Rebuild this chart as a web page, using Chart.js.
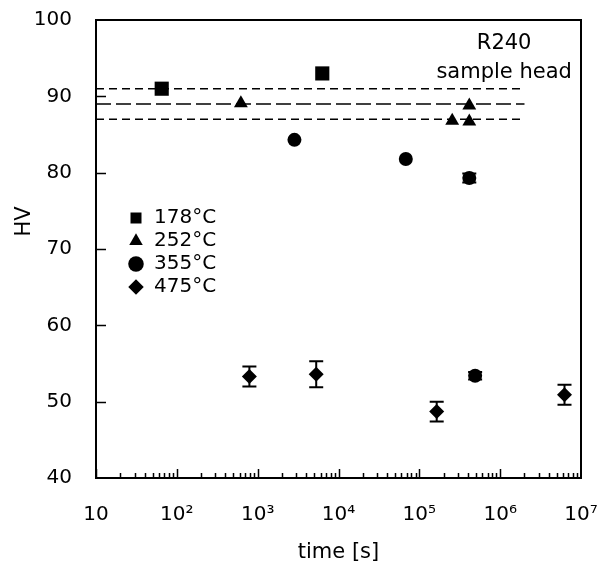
<!DOCTYPE html>
<html>
<head>
<meta charset="utf-8">
<script src="https://cdn.jsdelivr.net/npm/chart.js@4"></script>
<style>
  html, body { margin: 0; padding: 0; background: #fff; }
  #wrap { width: 599px; height: 565px; }
</style>
</head>
<body>
<div id="wrap"><canvas id="hv"></canvas></div>
<script>
// HV vs annealing time, one series per temperature
const seriesNames = ["178°C", "252°C", "355°C", "475°C"];

const time178 = [65, 6300];
const hv178 = [91.0, 93.0];

const time252 = [620, 255000, 415000, 415000];
const hv252 = [89.1, 86.8, 86.7, 88.8];

const time355 = [2850, 68000, 415000, 490000];
const hv355 = [84.3, 81.8, 79.3, 53.4];
const err355 = [0, 0, 0.6, 0.5];

const time475 = [790, 5300, 164000, 6250000];
const hv475 = [53.3, 53.6, 48.7, 50.9];
const err475 = [1.3, 1.7, 1.3, 1.3];

// as-received sample head band (mean and limits)
const refTime = [10, 2000000];
const refMean = 89;
const refLow = 87;
const refHigh = 91;

const xTicks = [10, 1e2, 1e3, 1e4, 1e5, 1e6, 1e7];
const xTickLabels = ["10", "10²", "10³", "10⁴", "10⁵", "10⁶", "10⁷"];
const yTicks = [40, 50, 60, 70, 80, 90, 100];

const FONT = "'DejaVu Sans', sans-serif";

const pts = (xs, ys) => xs.map((x, i) => ({ x: x, y: ys[i] }));
const hline = (v) => refTime.map((t) => ({ x: t, y: v }));

// frame, inward ticks, error bars and the free text
const decorPlugin = {
  id: "decor",
  afterLayout(chart) {
    const lg = chart.legend;
    const pad = chart.options.plugins.legend.labels.padding;
    lg.left = chart.chartArea.left + 32 - pad;
    lg.top = 208 - pad;
  },
  beforeDatasetsDraw(chart) {
    const ctx = chart.ctx;
    const xs = chart.scales.x;
    const ys = chart.scales.y;
    ctx.save();
    ctx.strokeStyle = "#000";
    ctx.lineWidth = 2;
    const bars = [
      [time355, hv355, err355],
      [time475, hv475, err475],
    ];
    bars.forEach(([t, v, e]) => {
      t.forEach((tt, i) => {
        if (!e[i]) return;
        const px = xs.getPixelForValue(tt);
        const top = ys.getPixelForValue(v[i] + e[i]);
        const bot = ys.getPixelForValue(v[i] - e[i]);
        ctx.beginPath();
        ctx.moveTo(px, top);
        ctx.lineTo(px, bot);
        ctx.moveTo(px - 7, top);
        ctx.lineTo(px + 7, top);
        ctx.moveTo(px - 7, bot);
        ctx.lineTo(px + 7, bot);
        ctx.stroke();
      });
    });
    ctx.restore();
  },
  afterDraw(chart) {
    const ctx = chart.ctx;
    const a = chart.chartArea;
    const xs = chart.scales.x;
    const ys = chart.scales.y;
    ctx.save();
    ctx.strokeStyle = "#000";
    ctx.lineWidth = 2;
    ctx.strokeRect(a.left, a.top, a.right - a.left, a.bottom - a.top);

    ctx.lineWidth = 1.5;
    ctx.beginPath();
    yTicks.slice(1, -1).forEach((v) => {
      const py = Math.round(ys.getPixelForValue(v)) + 0.5;
      ctx.moveTo(a.left, py);
      ctx.lineTo(a.left + 10, py);
    });
    for (let d = 10; d < 1e7; d *= 10) {
      for (let m = 1; m <= 9; m++) {
        const v = d * m;
        const px = Math.round(xs.getPixelForValue(v)) + 0.5;
        const len = m === 1 ? 9 : 5;
        ctx.moveTo(px, a.bottom);
        ctx.lineTo(px, a.bottom - len);
      }
    }
    ctx.stroke();

    ctx.fillStyle = "#000";
    ctx.font = "21px " + FONT;
    ctx.textAlign = "center";
    ctx.textBaseline = "middle";
    const ax = xs.getPixelForValue(1.12e6);
    ctx.fillText("R240", ax, ys.getPixelForValue(96.9));
    ctx.fillText("sample head", ax, ys.getPixelForValue(93.1));

    ctx.translate(25, ys.getPixelForValue(73.6));
    ctx.rotate(-Math.PI / 2);
    ctx.fillText("HV", 0, 0);
    ctx.restore();
  },
};

new Chart(document.getElementById("hv").getContext("2d"), {
  type: "scatter",
  data: {
    datasets: [
      {
        label: seriesNames[0],
        data: pts(time178, hv178),
        pointStyle: "rect",
        pointRadius: 10,
        backgroundColor: "#000",
        borderColor: "#000",
        borderWidth: 0,
      },
      {
        label: seriesNames[1],
        data: pts(time252, hv252),
        pointStyle: "triangle",
        pointRadius: 8,
        backgroundColor: "#000",
        borderColor: "#000",
        borderWidth: 0,
      },
      {
        label: seriesNames[2],
        data: pts(time355, hv355),
        pointStyle: "circle",
        pointRadius: 7,
        backgroundColor: "#000",
        borderColor: "#000",
        borderWidth: 0,
      },
      {
        label: seriesNames[3],
        data: pts(time475, hv475),
        pointStyle: "rectRot",
        pointRadius: 7.5,
        backgroundColor: "#000",
        borderColor: "#000",
        borderWidth: 0,
      },
      {
        type: "line",
        label: "high",
        data: hline(refHigh),
        showLine: true,
        pointRadius: 0,
        borderColor: "#000",
        borderWidth: 1.5,
        borderDash: [8, 5],
      },
      {
        type: "line",
        label: "mean",
        data: hline(refMean),
        showLine: true,
        pointRadius: 0,
        borderColor: "#000",
        borderWidth: 1.5,
        borderDash: [15, 5],
      },
      {
        type: "line",
        label: "low",
        data: hline(refLow),
        showLine: true,
        pointRadius: 0,
        borderColor: "#000",
        borderWidth: 1.5,
        borderDash: [8, 5],
      },
    ],
  },
  options: {
    responsive: true,
    maintainAspectRatio: false,
    animation: false,
    layout: { padding: { top: 20, right: 18, left: 0, bottom: 0 } },
    scales: {
      x: {
        type: "logarithmic",
        min: 10,
        max: 1e7,
        grid: { display: false, drawTicks: false },
        border: { display: false },
        afterBuildTicks: (s) => {
          s.ticks = xTicks.map((v) => ({ value: v }));
        },
        afterFit: (s) => {
          s.height = 87;
          s.paddingLeft = 0;
          s.paddingRight = 0;
        },
        ticks: {
          autoSkip: false,
          maxRotation: 0,
          padding: 25,
          color: "#000",
          font: { family: FONT, size: 20 },
          callback: (v) => {
            const i = xTicks.indexOf(v);
            return i < 0 ? "" : xTickLabels[i];
          },
        },
        title: {
          display: true,
          text: "time [s]",
          color: "#000",
          font: { family: FONT, size: 21 },
          padding: { top: 0, bottom: 0 },
        },
      },
      y: {
        min: 40,
        max: 100,
        grid: { display: false, drawTicks: false },
        border: { display: false },
        afterBuildTicks: (s) => {
          s.ticks = yTicks.map((v) => ({ value: v }));
        },
        afterFit: (s) => {
          s.width = 96;
          s.paddingTop = 0;
          s.paddingBottom = 0;
        },
        ticks: {
          padding: 24,
          color: "#000",
          font: { family: FONT, size: 20 },
        },
      },
    },
    plugins: {
      legend: {
        position: "chartArea",
        align: "start",
        labels: {
          usePointStyle: true,
          boxWidth: 16,
          boxHeight: 11,
          padding: 3,
          color: "#000",
          font: { family: FONT, size: 20 },
          filter: (item) => item.datasetIndex < 4,
        },
      },
      tooltip: { enabled: false },
    },
  },
  plugins: [decorPlugin],
});
</script>
</body>
</html>
